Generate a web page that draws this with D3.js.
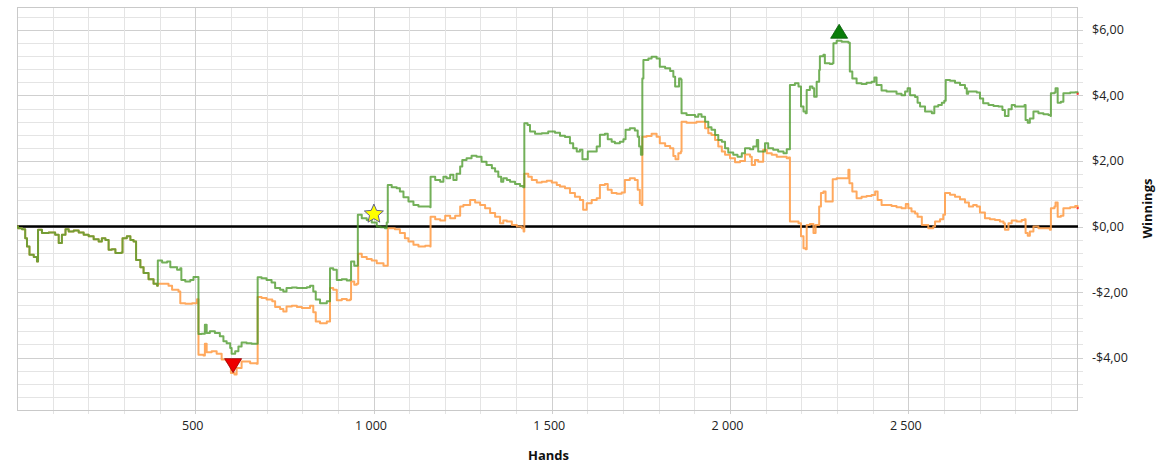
<!DOCTYPE html>
<html>
<head>
<meta charset="utf-8">
<script src="https://cdn.jsdelivr.net/npm/d3@7"></script>
<style>
  html, body { margin: 0; padding: 0; background: #ffffff; }
  svg { display: block; }
  text { font-family: "Open Sans", "DejaVu Sans", sans-serif; }
</style>
</head>
<body>
<svg id="chart" width="1168" height="467"></svg>
<script>
// ---------------- DATA ----------------
// [hand, winnings $] — shared path (both series identical at the start)
const commonPath = [[0,0],[3,-0.05],[14,-0.08],[23,-0.36],[28,-0.61],[35,-0.86],[47,-0.93],[56,-1.07],[59,-0.1],[70,-0.2],[89,-0.18],[107,-0.25],[117,-0.5],[126,-0.25],[136,-0.08],[145,-0.15],[159,-0.12],[173,-0.18],[187,-0.25],[201,-0.3],[215,-0.39],[229,-0.46],[238,-0.36],[248,-0.41],[257,-0.71],[266,-0.69],[276,-0.81],[293,-0.79],[296,-0.36],[308,-0.3],[318,-0.41],[327,-0.46],[334,-1.02],[346,-1.24],[355,-1.42],[369,-1.61],[383,-1.75],[393,-1.81]];

const greenPath = [[395,-1.04],[407,-1.10],[421,-1.07],[430,-1.24],[444,-1.24],[449,-1.32],[458,-1.27],[461,-1.63],[472,-1.68],[486,-1.63],[495,-1.54],[507,-1.54],[509,-3.28],[518,-3.27],[527,-3.0],[532,-3.25],[541,-3.2],[555,-3.25],[569,-3.35],[579,-3.5],[588,-3.56],[598,-3.71],[602,-3.88],[612,-3.81],[621,-3.66],[630,-3.54],[644,-3.56],[658,-3.58],[672,-3.58],[675,-1.55],[686,-1.58],[700,-1.63],[714,-1.71],[724,-1.88],[738,-1.93],[747,-1.98],[756,-1.88],[771,-1.86],[785,-1.88],[799,-1.88],[813,-1.85],[822,-1.81],[831,-1.98],[838,-2.23],[850,-2.34],[869,-2.28],[876,-2.28],[878,-1.27],[887,-1.32],[897,-1.63],[911,-1.61],[925,-1.65],[934,-1.63],[937,-1.07],[946,-1.2],[953,-1.2],[956,0.36],[967,0.25],[981,0.2],[995,0.12],[1009,0.0],[1020,-0.02],[1032,-0.05],[1037,0.12],[1040,1.27],[1051,1.2],[1065,1.17],[1074,1.07],[1084,0.89],[1098,0.76],[1112,0.66],[1126,0.61],[1145,0.61],[1159,0.59],[1160,1.52],[1173,1.42],[1187,1.37],[1196,1.52],[1205,1.47],[1215,1.58],[1224,1.42],[1233,1.61],[1243,1.83],[1249,2.03],[1261,2.08],[1275,2.16],[1289,2.13],[1303,1.98],[1317,1.88],[1332,1.78],[1341,1.68],[1350,1.52],[1358,1.37],[1364,1.47],[1374,1.42],[1383,1.37],[1397,1.3],[1411,1.24],[1420,1.2],[1423,3.15],[1432,3.1],[1439,2.9],[1453,2.83],[1472,2.85],[1490,2.9],[1509,2.86],[1523,2.77],[1537,2.73],[1551,2.54],[1560,2.39],[1570,2.29],[1579,2.34],[1586,2.05],[1595,2.05],[1601,2.29],[1612,2.29],[1626,2.44],[1635,2.8],[1649,2.83],[1657,2.66],[1668,2.59],[1677,2.54],[1691,2.59],[1701,2.66],[1707,2.95],[1719,3.0],[1733,2.93],[1741,2.74],[1745,2.44],[1750,2.19],[1754,4.52],[1757,5.08],[1771,5.13],[1780,5.18],[1794,5.13],[1803,4.88],[1818,4.83],[1832,4.75],[1841,4.57],[1846,4.27],[1853,4.27],[1857,4.52],[1862,4.49],[1864,3.46],[1878,3.4],[1892,3.4],[1902,3.35],[1911,3.43],[1920,3.35],[1930,3.2],[1939,3.03],[1948,2.95],[1958,2.79],[1967,2.64],[1977,2.59],[1986,2.39],[1995,2.26],[2009,2.19],[2021,2.13],[2033,2.24],[2042,2.39],[2056,2.36],[2065,2.44],[2075,2.64],[2079,2.29],[2089,2.29],[2098,2.54],[2107,2.39],[2121,2.34],[2135,2.29],[2150,2.24],[2159,2.36],[2166,2.36],[2168,4.32],[2182,4.37],[2192,4.27],[2199,3.66],[2206,3.51],[2212,3.46],[2215,4.17],[2224,4.27],[2231,4.22],[2236,3.96],[2243,4.42],[2250,4.78],[2252,5.2],[2262,5.24],[2266,4.98],[2280,4.96],[2287,4.98],[2290,5.59],[2299,5.67],[2313,5.64],[2332,5.61],[2336,4.73],[2343,4.52],[2355,4.37],[2369,4.35],[2383,4.39],[2397,4.42],[2405,4.55],[2411,4.32],[2425,4.15],[2439,4.12],[2453,4.12],[2467,4.05],[2481,4.01],[2491,4.12],[2498,4.22],[2505,4.01],[2519,3.95],[2526,3.78],[2533,3.66],[2547,3.51],[2566,3.46],[2573,3.66],[2584,3.71],[2594,3.78],[2601,3.84],[2605,4.47],[2617,4.45],[2631,4.39],[2645,4.32],[2659,4.22],[2664,4.05],[2668,4.12],[2682,4.12],[2692,4.09],[2701,3.91],[2710,3.76],[2725,3.71],[2739,3.68],[2753,3.66],[2764,3.56],[2771,3.37],[2781,3.58],[2790,3.71],[2799,3.66],[2813,3.66],[2826,3.71],[2829,3.25],[2835,3.17],[2841,3.3],[2851,3.51],[2865,3.46],[2879,3.43],[2893,3.4],[2899,3.37],[2900,4.07],[2910,4.09],[2913,4.22],[2919,3.78],[2928,3.81],[2935,4.07],[2954,4.09],[2968,4.1],[2975,4.05]];

const orangePath = [[395,-1.75],[411,-1.75],[425,-1.81],[435,-1.93],[453,-1.98],[458,-2.34],[472,-2.36],[491,-2.34],[505,-2.22],[509,-3.91],[523,-3.94],[527,-3.58],[532,-3.84],[546,-3.81],[560,-3.88],[574,-4.06],[588,-4.12],[600,-4.47],[610,-4.52],[616,-4.32],[630,-4.12],[644,-4.12],[654,-4.17],[672,-4.19],[675,-2.15],[686,-2.18],[700,-2.23],[716,-2.28],[724,-2.46],[738,-2.52],[747,-2.59],[756,-2.44],[771,-2.42],[785,-2.46],[799,-2.49],[813,-2.49],[822,-2.42],[831,-2.62],[838,-2.9],[850,-2.95],[869,-2.9],[876,-2.9],[878,-1.88],[887,-1.93],[897,-2.25],[911,-2.21],[925,-2.25],[934,-2.23],[937,-1.68],[946,-1.78],[953,-1.75],[957,-0.83],[967,-0.93],[981,-0.99],[995,-1.04],[1009,-1.12],[1028,-1.2],[1038,-1.2],[1040,-0.05],[1060,-0.08],[1074,-0.2],[1088,-0.36],[1098,-0.46],[1112,-0.56],[1126,-0.61],[1145,-0.59],[1159,-0.61],[1160,0.3],[1173,0.22],[1187,0.18],[1201,0.33],[1215,0.25],[1229,0.33],[1243,0.61],[1252,0.66],[1271,0.81],[1285,0.73],[1299,0.66],[1313,0.56],[1327,0.41],[1341,0.3],[1355,0.1],[1364,0.18],[1374,0.15],[1388,0.05],[1402,0.0],[1416,-0.05],[1421,-0.15],[1423,1.61],[1434,1.52],[1444,1.42],[1458,1.34],[1472,1.37],[1486,1.4],[1500,1.34],[1514,1.27],[1523,1.22],[1537,1.17],[1551,1.02],[1565,0.91],[1579,0.81],[1588,0.51],[1598,0.71],[1612,0.81],[1626,0.86],[1635,1.27],[1649,1.3],[1657,1.12],[1668,1.02],[1682,1.0],[1696,1.04],[1705,1.42],[1719,1.47],[1733,1.42],[1741,1.12],[1747,0.71],[1752,0.66],[1754,2.74],[1766,2.76],[1780,2.83],[1794,2.74],[1803,2.54],[1818,2.46],[1832,2.39],[1841,2.15],[1847,2.05],[1855,2.24],[1862,2.29],[1864,3.2],[1878,3.17],[1892,3.17],[1906,3.2],[1920,3.2],[1930,3.0],[1939,2.85],[1948,2.79],[1958,2.64],[1967,2.44],[1977,2.29],[1986,2.19],[2000,2.08],[2014,1.96],[2028,2.0],[2042,2.2],[2056,2.13],[2061,1.88],[2070,2.03],[2079,1.98],[2093,2.34],[2103,2.24],[2117,2.19],[2131,2.13],[2145,2.13],[2159,2.08],[2165,2.11],[2168,0.15],[2182,0.15],[2192,0.1],[2199,-0.3],[2206,-0.66],[2212,-0.69],[2215,0.05],[2224,0.08],[2234,-0.2],[2240,0.05],[2250,0.61],[2255,1.02],[2262,1.07],[2268,0.76],[2283,0.76],[2288,1.44],[2299,1.47],[2313,1.47],[2327,1.47],[2332,1.73],[2335,1.32],[2343,1.07],[2355,0.86],[2369,0.91],[2383,0.93],[2397,0.96],[2407,1.07],[2414,0.81],[2425,0.66],[2439,0.66],[2453,0.63],[2467,0.59],[2481,0.56],[2493,0.69],[2500,0.56],[2509,0.46],[2519,0.4],[2526,0.3],[2538,0.05],[2556,-0.05],[2570,0.0],[2575,0.15],[2589,0.22],[2598,0.36],[2603,1.02],[2617,0.97],[2631,0.91],[2645,0.83],[2659,0.73],[2670,0.61],[2682,0.66],[2692,0.61],[2701,0.43],[2715,0.25],[2729,0.22],[2743,0.2],[2757,0.15],[2767,0.1],[2771,-0.1],[2781,0.1],[2790,0.18],[2804,0.15],[2818,0.2],[2826,0.22],[2829,-0.2],[2835,-0.28],[2841,-0.15],[2851,0.0],[2865,-0.05],[2883,-0.05],[2897,-0.1],[2900,0.56],[2910,0.61],[2913,0.73],[2919,0.3],[2928,0.33],[2935,0.56],[2954,0.59],[2968,0.63],[2975,0.56]];

const starPoint = [1001, 0.41];
const xTickValues = [500, 1000, 1500, 2000, 2500];
const yTickValues = [-4, -2, 0, 2, 4, 6];
const xDomain = [0, 2976];
const yDomain = [-5.6, 6.7];
const xTitle = "Hands";
const yTitle = "Winnings";

// ---------------- CHART ----------------
const svg = d3.select("#chart");
const L = 17, R = 1078, T = 7, B = 410;
const x = d3.scaleLinear().domain(xDomain).range([L, R]);
const y = d3.scaleLinear().domain(yDomain).range([B, T]);

const grid = svg.append("g");
// horizontal grid every 0.4, major every 2
d3.range(-13, 17).map(i => +(i * 0.4).toFixed(2)).forEach(v => {
  const major = Math.abs(v / 2 - Math.round(v / 2)) < 1e-6;
  grid.append("line")
    .attr("x1", L).attr("x2", R + 5)
    .attr("y1", Math.round(y(v)) + 0.5).attr("y2", Math.round(y(v)) + 0.5)
    .attr("stroke", major ? "#cfcfcf" : "#e4e4e4").attr("stroke-width", 1);
});
// vertical grid every 100 hands, major every 500
d3.range(100, 2976, 100).forEach(h => {
  const major = h % 500 === 0;
  grid.append("line")
    .attr("x1", Math.round(x(h)) + 0.5).attr("x2", Math.round(x(h)) + 0.5)
    .attr("y1", T).attr("y2", B + 4)
    .attr("stroke", major ? "#cfcfcf" : "#e4e4e4").attr("stroke-width", 1);
});
// plot border
svg.append("rect")
  .attr("x", L + 0.5).attr("y", T + 0.5)
  .attr("width", R - L - 1).attr("height", B - T)
  .attr("fill", "none").attr("stroke", "#c9c9c9").attr("stroke-width", 1);

// axes
const fmtMoney = v => (v < 0 ? "-" : "") + "$" + Math.abs(v).toFixed(2).replace(".", ",");
const fmtHands = v => d3.format(",")(v).replace(/,/g, " ");

const yAxis = svg.append("g")
  .attr("transform", `translate(${R},0)`)
  .call(d3.axisRight(y).tickValues(yTickValues).tickFormat(fmtMoney).tickSize(0).tickPadding(14));
yAxis.select(".domain").remove();
yAxis.selectAll("text").attr("font-size", 12.5).attr("fill", "#222")
  .attr("font-family", "'Open Sans', sans-serif");

const xAxis = svg.append("g")
  .attr("transform", `translate(0,${B})`)
  .call(d3.axisBottom(x).tickValues(xTickValues).tickFormat(fmtHands).tickSize(0).tickPadding(11));
xAxis.select(".domain").remove();
xAxis.selectAll("text").attr("font-size", 12.5).attr("fill", "#222").attr("dx", -3)
  .attr("font-family", "'Open Sans', sans-serif");

// titles
svg.append("text").attr("x", (L + R) / 2 + 1).attr("y", 460)
  .attr("text-anchor", "middle").attr("font-size", 13).attr("font-weight", "bold")
  .attr("fill", "#111").text(xTitle);
svg.append("text")
  .attr("transform", `translate(1152,${(T + B) / 2}) rotate(-90)`)
  .attr("text-anchor", "middle").attr("font-size", 13).attr("font-weight", "bold")
  .attr("fill", "#111").text(yTitle);

// zero line
svg.append("line")
  .attr("x1", L).attr("x2", R)
  .attr("y1", y(0)).attr("y2", y(0))
  .attr("stroke", "#000").attr("stroke-width", 2.6);

// series (staircase like the original cumulative winnings graph)
const line = d3.line().curve(d3.curveStepAfter).x(d => x(d[0])).y(d => y(d[1]));
const orangeData = commonPath.concat(orangePath);
const greenData = commonPath.concat(greenPath);

svg.append("path").datum(orangeData)
  .attr("d", line).attr("fill", "none")
  .attr("stroke", "#ffa04c").attr("stroke-opacity", 0.9)
  .attr("stroke-width", 2).attr("stroke-linejoin", "round");
svg.append("path").datum(greenData)
  .attr("d", line).attr("fill", "none")
  .attr("stroke", "#4c9a2a").attr("stroke-opacity", 0.78)
  .attr("stroke-width", 2).attr("stroke-linejoin", "round");

// end dots
[greenData, orangeData].forEach(s => {
  const d = s[s.length - 1];
  svg.append("rect").attr("x", x(d[0]) - 1).attr("y", y(d[1]) - 1)
    .attr("width", 2).attr("height", 2).attr("fill", "#ff3030");
});

// markers: min (red down triangle), max (green up triangle), star
const gMin = d3.least(greenData, d => d[1]);
const gMax = d3.greatest(greenData, d => d[1]);
const tw = 8.5, th = 14;
svg.append("path")
  .attr("transform", `translate(${x(gMin[0]) + 1.5},${y(gMin[1]) + 5})`)
  .attr("d", `M${-tw},0L${tw},0L0,${th}Z`)
  .attr("fill", "#ee0000").attr("stroke", "#990000").attr("stroke-width", 0.8);
svg.append("path")
  .attr("transform", `translate(${x(gMax[0]) + 2.5},${y(gMax[1]) - 2.5})`)
  .attr("d", `M${-tw},0L${tw},0L0,${-th}Z`)
  .attr("fill", "#0a7d0a").attr("stroke", "#055a05").attr("stroke-width", 0.8);

const starPts = [];
for (let i = 0; i < 10; i++) {
  const r = i % 2 === 0 ? 10 : 4.6;
  const a = -Math.PI / 2 + i * Math.PI / 5;
  starPts.push([r * Math.cos(a), r * Math.sin(a)]);
}
svg.append("path")
  .attr("transform", `translate(${x(starPoint[0])},${y(starPoint[1]) + 1})`)
  .attr("d", "M" + starPts.map(p => p.join(",")).join("L") + "Z")
  .attr("fill", "#ffff00").attr("stroke", "#50508a").attr("stroke-width", 0.9);
</script>
</body>
</html>
